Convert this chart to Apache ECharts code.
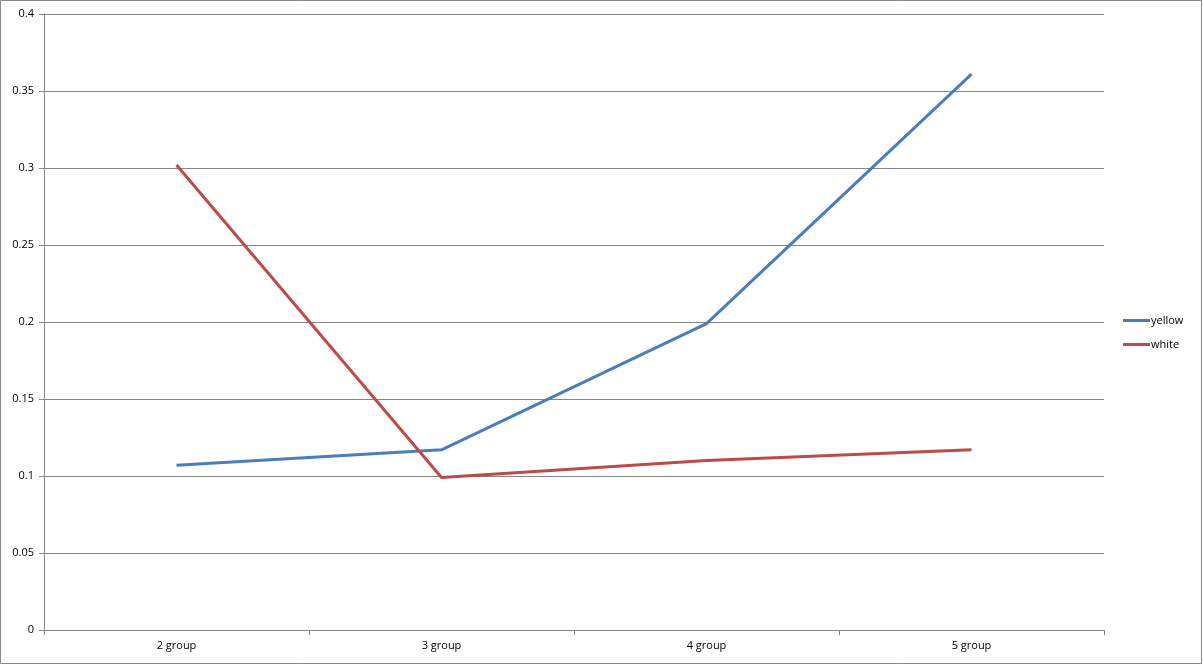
<!DOCTYPE html>
<html>
<head>
<meta charset="utf-8">
<script src="https://cdn.jsdelivr.net/npm/echarts@6/dist/echarts.min.js"></script>
<style>
html,body{margin:0;padding:0;background:#fff;}
#chart{width:1203px;height:665px;}
</style>
</head>
<body>
<div id="chart"></div>
<script>
const categories = ['2 group', '3 group', '4 group', '5 group'];
const yellowValues = [0.107, 0.117, 0.199, 0.361];
const whiteValues = [0.302, 0.099, 0.110, 0.117];
const seriesNames = ['yellow', 'white'];

const chart = echarts.init(document.getElementById('chart'), null, {renderer: 'canvas'});
const font = 'Open Sans, DejaVu Sans, sans-serif';
chart.setOption({
  animation: false,
  backgroundColor: '#fff',
  graphic: [{
    type: 'rect',
    shape: {x: 0.5, y: 0.5, width: 1201, height: 663},
    style: {fill: 'none', stroke: '#888', lineWidth: 1},
    silent: true
  }],
  grid: {left: 44, right: 99, top: 14, bottom: 35, containLabel: false},
  legend: {
    orient: 'vertical',
    left: 1123,
    top: 315,
    padding: 0,
    itemWidth: 27,
    itemHeight: 3,
    itemGap: 13,
    icon: 'rect',
    textStyle: {fontFamily: font, fontSize: 11, color: '#000', padding: [0, 0, 0, -4]},
    data: seriesNames
  },
  xAxis: {
    type: 'category',
    data: categories,
    boundaryGap: true,
    axisLine: {lineStyle: {color: '#868686', width: 1}},
    axisTick: {show: true, length: 5, interval: 0, lineStyle: {color: '#868686'}},
    axisLabel: {fontFamily: font, fontSize: 11, color: '#000', margin: 10}
  },
  yAxis: {
    type: 'value',
    min: 0,
    max: 0.4,
    interval: 0.05,
    axisLine: {show: true, lineStyle: {color: '#868686', width: 1}},
    axisTick: {show: true, length: 5, lineStyle: {color: '#868686'}},
    splitLine: {show: true, lineStyle: {color: '#868686', width: 1}},
    axisLabel: {fontFamily: font, fontSize: 11, color: '#000', margin: 10,
      formatter: v => String(parseFloat(v.toFixed(2)))}
  },
  series: [
    {
      name: seriesNames[0], type: 'line', data: yellowValues,
      symbol: 'none', color: '#4a7ebb',
      lineStyle: {width: 3, color: '#4a7ebb'}
    },
    {
      name: seriesNames[1], type: 'line', data: whiteValues,
      symbol: 'none', color: '#be4b48',
      lineStyle: {width: 3, color: '#be4b48'}
    }
  ]
});
</script>
</body>
</html>
